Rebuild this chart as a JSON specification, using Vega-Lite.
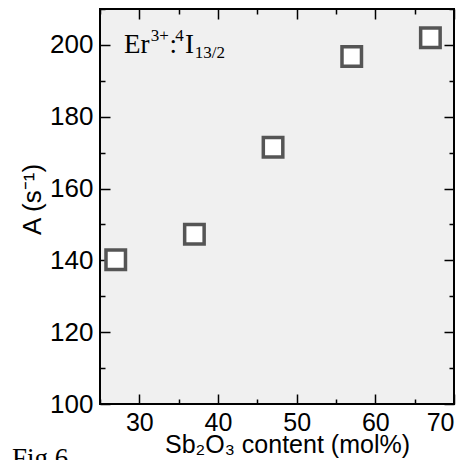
{
  "$schema": "https://vega.github.io/schema/vega-lite/v6.json",
  "width": 354,
  "height": 395,
  "autosize": "none",
  "padding": {"left": 100, "top": 9, "right": 19, "bottom": 56},
  "background": "white",
  "config": {
    "view": {"fill": "#f0f0f0", "stroke": "#000000", "strokeWidth": 2},
    "axis": {"grid": false, "domain": false, "ticks": true, "zindex": 1, "tickColor": "#000000", "tickOpacity": 1, "tickWidth": 1.5, "labelFont": "Liberation Sans", "titleFont": "Liberation Sans", "labelColor": "#000000", "titleColor": "#000000", "titleFontWeight": "normal"}
  },
  "datasets": {
    "pts": [
      {"content": 27, "A": 140.2},
      {"content": 37, "A": 147.3},
      {"content": 47, "A": 171.5},
      {"content": 57, "A": 196.8},
      {"content": 67, "A": 202.0}
    ],
    "noteMain": [
      {"content": 28.05, "A": 197.74, "label": "Er"},
      {"content": 33.85, "A": 197.74, "label": ":"},
      {"content": 35.80, "A": 197.74, "label": "I"},
      {"content": 13.8, "A": 82.5, "label": "Fig.6"}
    ],
    "noteSmall": [
      {"content": 31.45, "A": 201.1, "label": "3+"},
      {"content": 34.55, "A": 201.1, "label": "4"},
      {"content": 37.05, "A": 196.35, "label": "13/2"}
    ]
  },
  "resolve": {"axis": {"x": "independent", "y": "independent"}},
  "layer": [
    {
      "data": {"name": "pts"},
      "mark": {"type": "point", "opacity": 0},
      "encoding": {
        "x": {"field": "content", "type": "quantitative", "scale": {"domain": [25, 70], "nice": false, "zero": false},
          "axis": {"orient": "bottom", "values": [25, 35, 45, 55, 65], "labels": false, "tickSize": -5, "title": null}},
        "y": {"field": "A", "type": "quantitative", "scale": {"domain": [100, 210], "nice": false, "zero": false},
          "axis": {"orient": "left", "values": [110, 130, 150, 170, 190, 210], "labels": false, "tickSize": -5, "title": null}}
      }
    },
    {
      "data": {"name": "pts"},
      "mark": {"type": "point", "opacity": 0},
      "encoding": {
        "x": {"field": "content", "type": "quantitative",
          "axis": {"orient": "top", "values": [25, 35, 45, 55, 65], "labels": false, "tickSize": -5, "title": null}},
        "y": {"field": "A", "type": "quantitative",
          "axis": {"orient": "right", "values": [110, 130, 150, 170, 190, 210], "labels": false, "tickSize": -5, "title": null}}
      }
    },
    {
      "data": {"name": "pts"},
      "mark": {"type": "point", "opacity": 0},
      "encoding": {
        "x": {"field": "content", "type": "quantitative",
          "axis": {"orient": "top", "values": [30, 40, 50, 60, 70], "labels": false, "tickSize": -10, "title": null}},
        "y": {"field": "A", "type": "quantitative",
          "axis": {"orient": "right", "values": [100, 120, 140, 160, 180, 200], "labels": false, "tickSize": -10, "title": null}}
      }
    },
    {
      "data": {"name": "pts"},
      "mark": {"type": "point", "shape": "square", "filled": true, "fill": "#ffffff", "stroke": "#555555", "strokeWidth": 3.5, "size": 380, "opacity": 1},
      "encoding": {
        "x": {"field": "content", "type": "quantitative",
          "axis": {"orient": "bottom", "values": [30, 40, 50, 60, 70], "tickSize": -10, "labelPadding": 16, "labelFontSize": 25, "title": "Sb₂O₃ content (mol%)", "titleFontSize": 25, "titleX": 187, "titleY": 48, "titleBaseline": "alphabetic"}},
        "y": {"field": "A", "type": "quantitative",
          "axis": {"orient": "left", "values": [100, 120, 140, 160, 180, 200], "tickSize": -10, "labelPadding": 17, "labelFontSize": 26, "title": "A (s⁻¹)", "titleFontSize": 26, "titleX": -68, "titleY": 190, "titleBaseline": "middle"}}
      }
    },
    {
      "data": {"name": "noteMain"},
      "mark": {"type": "text", "align": "left", "baseline": "alphabetic", "font": "Liberation Serif", "fontSize": 27, "color": "#000000", "clip": false},
      "encoding": {
        "x": {"field": "content", "type": "quantitative", "axis": null},
        "y": {"field": "A", "type": "quantitative", "axis": null},
        "text": {"field": "label"}
      }
    },
    {
      "data": {"name": "noteSmall"},
      "mark": {"type": "text", "align": "left", "baseline": "alphabetic", "font": "Liberation Serif", "fontSize": 17, "color": "#000000", "clip": false},
      "encoding": {
        "x": {"field": "content", "type": "quantitative", "axis": null},
        "y": {"field": "A", "type": "quantitative", "axis": null},
        "text": {"field": "label"}
      }
    }
  ]
}
